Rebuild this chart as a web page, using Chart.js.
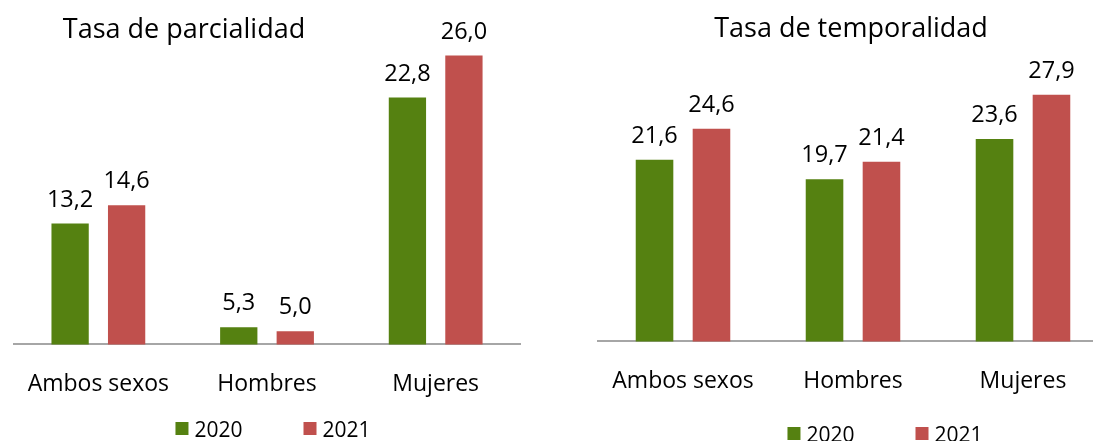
<!DOCTYPE html>
<html>
<head>
<meta charset="utf-8">
<script src="https://cdn.jsdelivr.net/npm/chart.js@4.4.1/dist/chart.umd.min.js"></script>
<style>
  html, body { margin: 0; padding: 0; background: #fff; overflow: hidden; width: 1093px; height: 441px; }
  #left { position: absolute; left: 0; top: 0; width: 546px; height: 441px; }
  #right { position: absolute; left: 550px; top: 0; width: 670px; height: 441px; }
</style>
</head>
<body>
<div id="left"><canvas id="chart-parcialidad"></canvas></div>
<div id="right"><canvas id="chart-temporalidad"></canvas></div>
<script>
const categories = ["Ambos sexos", "Hombres", "Mujeres"];
const years = ["2020", "2021"];
const parcialidad2020 = [13.2, 5.3, 22.8];
const parcialidad2021 = [14.6, 5.0, 26.0];
const temporalidad2020 = [21.6, 19.7, 23.6];
const temporalidad2021 = [24.6, 21.4, 27.9];

const green = "#558111";
const red = "#c0504d";
const font = "'Open Sans', 'DejaVu Sans', sans-serif";

// value labels, title and legend drawn on the canvas
const decoPlugin = {
  id: "deco",
  afterDatasetsDraw(chart, args, opts) {
    const ctx = chart.ctx;
    ctx.save();
    ctx.fillStyle = "#000";
    ctx.textAlign = "center";
    ctx.textBaseline = "alphabetic";
    ctx.font = "23.5px " + font;
    chart.data.datasets.forEach((ds, i) => {
      chart.getDatasetMeta(i).data.forEach((bar, j) => {
        const txt = ds.data[j].toFixed(1).replace(".", ",");
        ctx.fillText(txt, bar.x, bar.y - 17);
      });
    });

    // title
    ctx.font = "27px " + font;
    ctx.fillText(opts.title, opts.titleX, opts.titleY);

    // legend
    ctx.font = "21px " + font;
    ctx.textAlign = "left";
    const box = 13, gap = 6, spacing = 61;
    const widths = chart.data.datasets.map(ds => ctx.measureText(ds.label).width);
    let total = 0;
    widths.forEach((w, i) => { total += box + gap + w + (i ? spacing : 0); });
    let x = chart.width / 2 - total / 2;
    chart.data.datasets.forEach((ds, i) => {
      ctx.fillStyle = ds.backgroundColor;
      ctx.fillRect(x, opts.legendY, box, box);
      ctx.fillStyle = "#000";
      ctx.fillText(ds.label, x + box + gap, opts.legendY + 15);
      x += box + gap + widths[i] + spacing;
    });
    ctx.restore();
  }
};

function makeChart(id, d2020, d2021, yMin, yMax, padding, deco) {
  return new Chart(document.getElementById(id), {
    type: "bar",
    data: {
      labels: categories,
      datasets: [
        { label: years[0], data: d2020, backgroundColor: green },
        { label: years[1], data: d2021, backgroundColor: red }
      ]
    },
    options: {
      responsive: true,
      maintainAspectRatio: false,
      animation: false,
      layout: { padding: padding },
      datasets: { bar: { categoryPercentage: 0.67, barPercentage: 0.66 } },
      plugins: {
        legend: { display: false },
        tooltip: { enabled: false },
        deco: deco
      },
      scales: {
        x: {
          grid: { display: false, drawTicks: false },
          border: { display: true, color: "#a6a6a6", width: 2 },
          ticks: { color: "#000", font: { family: font, size: 23 }, padding: 26 }
        },
        y: { display: false, min: yMin, max: yMax }
      }
    },
    plugins: [decoPlugin]
  });
}

makeChart("chart-parcialidad", parcialidad2020, parcialidad2021, 4, 30,
  { left: 10, right: 26, top: 3, bottom: 17 },
  { title: "Tasa de parcialidad", titleX: 184, titleY: 38, legendY: 422 });

makeChart("chart-temporalidad", temporalidad2020, temporalidad2021, 4, 30,
  { left: 48, right: 112, top: 73, bottom: 20 },
  { title: "Tasa de temporalidad", titleX: 301, titleY: 37, legendY: 427 });
</script>
</body>
</html>
